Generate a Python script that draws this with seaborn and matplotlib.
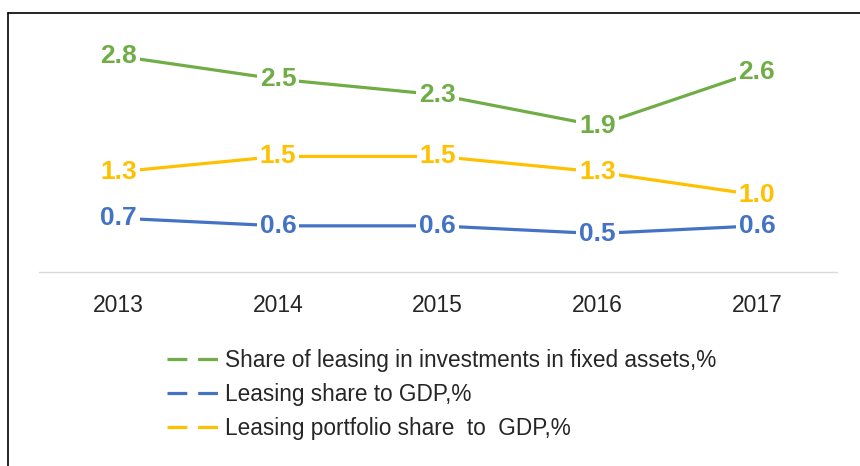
import matplotlib
matplotlib.use('Agg')
import pandas as pd
import matplotlib.pyplot as plt
import seaborn as sns
from matplotlib.lines import Line2D

years = ['2013', '2014', '2015', '2016', '2017']
fixed_assets = [2.8, 2.5, 2.3, 1.9, 2.6]
gdp_share = [0.7, 0.6, 0.6, 0.5, 0.6]
portfolio_share = [1.3, 1.5, 1.5, 1.3, 1.0]
series_names = ['Share of leasing in investments in fixed assets,%',
                'Leasing share to GDP,%',
                'Leasing portfolio share  to  GDP,%']
colors = ['#70AD47', '#4472C4', '#FFC000']

df = pd.DataFrame({
    'year': years * 3,
    'value': fixed_assets + gdp_share + portfolio_share,
    'series': [series_names[0]] * 5 + [series_names[1]] * 5 + [series_names[2]] * 5,
})

sns.set_style('white')
plt.rcParams['font.family'] = ['Liberation Sans', 'DejaVu Sans']

fig = plt.figure(figsize=(8.6, 4.66), dpi=100)
ax = fig.add_axes([0.045, 0.416, 0.928, 0.563])

sns.lineplot(data=df, x='year', y='value', hue='series', palette=colors,
             linewidth=2.3, sort=False, legend=False, ax=ax)

for name, col in zip(series_names, colors):
    sub = df[df['series'] == name]
    for i, v in enumerate(sub['value']):
        ax.text(i, v, f'{v:.1f}', color=col, fontsize=19, fontweight='bold',
                ha='center', va='center', zorder=5,
                bbox=dict(facecolor='white', edgecolor='none', pad=2.0))

ax.set_xlim(-0.5, 4.5)
ax.set_ylim(0, 3.4)
ax.set_yticks([])
ax.set_xlabel('')
ax.set_ylabel('')
for s in ['top', 'left', 'right']:
    ax.spines[s].set_visible(False)
ax.spines['bottom'].set_color('#D9D9D9')
ax.spines['bottom'].set_linewidth(1.0)
ax.tick_params(axis='x', length=0, labelsize=16.5, pad=16)
for lbl in ax.get_xticklabels():
    lbl.set_color('#262626')

handles = [Line2D([0], [0], color=c, linewidth=2.3, linestyle=(0, (6.2, 3.4)))
           for c in colors]
fig.legend(handles, series_names, loc='upper left', bbox_to_anchor=(0.1815, 0.276),
           frameon=False, fontsize=16.3, handlelength=2.35, handletextpad=0.2,
           labelspacing=0.5, borderpad=0, labelcolor='#262626')

# outer frame
fig.add_artist(Line2D([8 / 860, 8 / 860], [0, 1 - 12.5 / 466], color='black',
                      linewidth=1.2, transform=fig.transFigure))
fig.add_artist(Line2D([8 / 860, 1], [1 - 12.5 / 466, 1 - 12.5 / 466], color='black',
                      linewidth=1.2, transform=fig.transFigure))

fig.savefig('out.png', dpi=100)
